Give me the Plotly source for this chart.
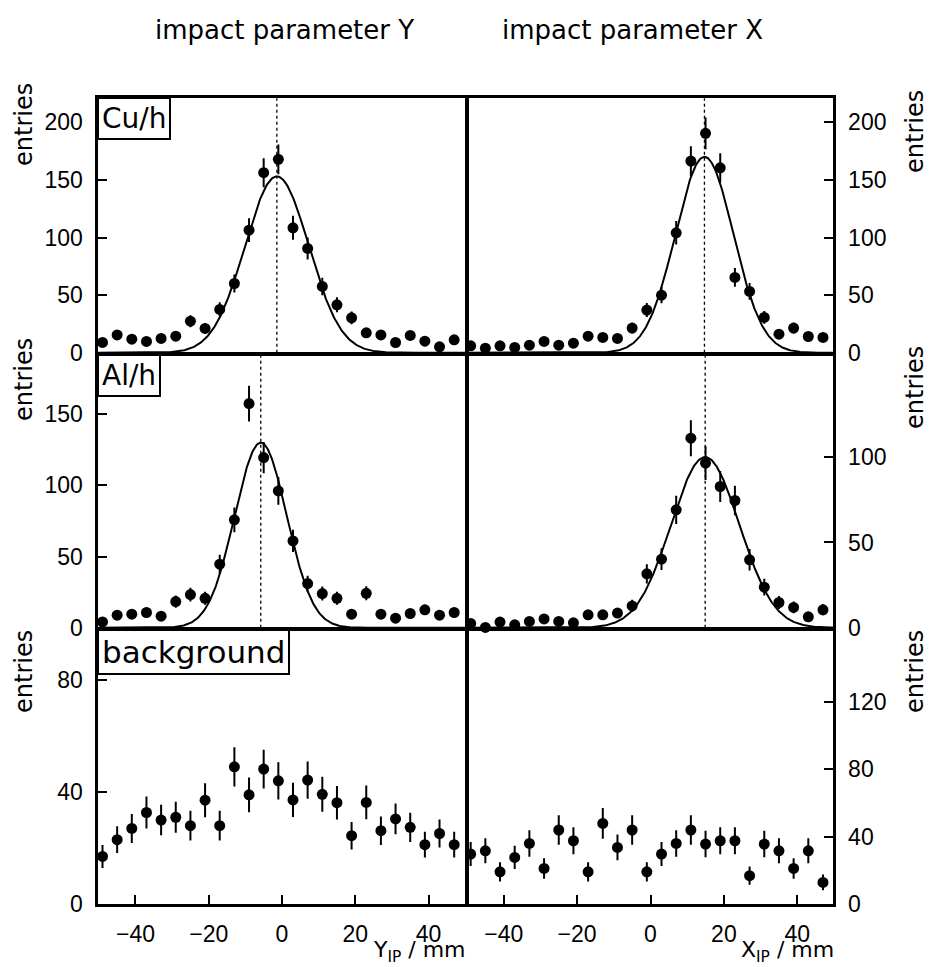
import numpy as np
import plotly.graph_objects as go
from plotly.subplots import make_subplots

# ---------------- data ----------------
bin_centers = [-49, -45, -41, -37, -33, -29, -25, -21, -17, -13, -9, -5, -1,
               3, 7, 11, 15, 19, 23, 27, 31, 35, 39, 43, 47]

cu_y = [9, 15.5, 11.8, 9.8, 12.4, 14.4, 27.4, 21.1, 37.6, 60.1, 106.4, 156.2, 167.8,
        108.4, 90.5, 57.5, 41.6, 30.3, 17.3, 15.5, 8.9, 15, 10, 5.1, 11.2]
cu_x = [6.0, 4.0, 6.0, 4.6, 6.6, 9.8, 6.6, 8.3, 14.4, 13.3, 12.4, 21.4, 37,
        50, 104.1, 166.3, 190.4, 160.5, 65.4, 53.2, 30.6, 16.1, 21.4, 14.1, 13.3]
al_y = [4.1, 8.8, 9.5, 10.7, 8.1, 18.4, 23.3, 20.7, 44.6, 75.8, 157.4, 119.5, 96.1,
        61, 31, 24, 20.7, 9.5, 24.2, 9.5, 6.7, 10, 12.6, 8.8, 10.7]
al_x = [2.5, 0.2, 3.3, 1.7, 3.7, 5.2, 3.7, 2.9, 7.6, 7.6, 8.6, 12.8, 31.6,
        40.2, 69.1, 111.1, 96.5, 82.8, 74.6, 39.8, 23.8, 14.8, 11.9, 6.4, 10.5]
bg_y = [16.9, 22.9, 26.9, 32.6, 29.9, 30.9, 27.9, 37, 27.9, 48.9, 38.9, 48.1, 43.9,
        37.1, 44.2, 39.1, 36.1, 24.3, 36.2, 26.1, 30.3, 27.3, 21.1, 25.1, 21.1]
bg_x = [29.6, 31.5, 19, 27.6, 35.9, 21, 43.9, 37.5, 19, 47.8, 33.5, 43.9, 19,
        29.6, 35.9, 43.9, 35.5, 37.5, 37.5, 16.7, 35.5, 31.5, 21, 31.5, 12.7]
bg_x_weight = 1.75   # right background histogram is weighted

# Gaussian fit parameters: amplitude, mean, sigma
fit_cu_y = (153, -1.4, 8.7)
fit_cu_x = (170, 14.7, 7.9)
fit_al_y = (130, -5.8, 7.1)
fit_al_x = (100, 14.9, 9.3)

col_titles = ["impact parameter Y", "impact parameter X"]
x_titles = ["Y<sub>IP</sub> / mm", "X<sub>IP</sub> / mm"]
panel_labels = ["Cu/h", "Al/h", "background"]
x_ticks = [-40, -20, 0, 20, 40]
yticks_cu = [0, 50, 100, 150, 200]
yticks_al_y = [0, 50, 100, 150]
yticks_al_x = [0, 50, 100]
yticks_bg_y = [0, 40, 80]
yticks_bg_x = [0, 40, 80, 120]

# ---------------- figure ----------------
W, H = 930, 967
LW = 2.5
HALF = LW / 2
fig = make_subplots(rows=3, cols=2, horizontal_spacing=0, vertical_spacing=0)

BX = [97, 467, 834]          # frame boundaries (px)
BY = [97, 354, 629, 905]
XR = [[-50.5, 50.5], [-50, 50]]          # data range across boundary span
YTOP = [223, 223, 193.1, 161.2, 98.6, 164.3]  # y value at top boundary

panels = [
    (1, 1, cu_y, np.sqrt(cu_y), fit_cu_y, yticks_cu),
    (1, 2, cu_x, np.sqrt(cu_x), fit_cu_x, yticks_cu),
    (2, 1, al_y, np.sqrt(al_y), fit_al_y, yticks_al_y),
    (2, 2, al_x, np.sqrt(al_x), fit_al_x, yticks_al_x),
    (3, 1, bg_y, np.sqrt(bg_y), None, yticks_bg_y),
    (3, 2, bg_x, np.sqrt(np.array(bg_x) * bg_x_weight), None, yticks_bg_x),
]

xfine = np.linspace(-50.5, 50.5, 501)
tickfont = dict(family="Liberation Sans, Arial, sans-serif", size=23, color="black")
textfont = "DejaVu Sans, sans-serif"

for k, (r, c, vals, errs, fit, yt) in enumerate(panels):
    idx = (r - 1) * 2 + c
    xa = "x" if idx == 1 else f"x{idx}"
    ya = "y" if idx == 1 else f"y{idx}"
    fig.add_trace(go.Scatter(
        x=bin_centers, y=vals, mode="markers",
        marker=dict(size=11, color="black"),
        error_y=dict(type="data", array=list(errs), thickness=2, width=0, color="black"),
        showlegend=False, hoverinfo="skip", cliponaxis=False), row=r, col=c)
    if fit is not None:
        A, mu, sg = fit
        yfit = A * np.exp(-0.5 * ((xfine - mu) / sg) ** 2)
        fig.add_trace(go.Scatter(x=xfine, y=yfit, mode="lines",
                                 line=dict(color="black", width=2),
                                 showlegend=False, hoverinfo="skip"), row=r, col=c)
        fig.add_shape(type="line", xref=xa, yref=f"{ya} domain",
                      x0=mu, x1=mu, y0=0, y1=1,
                      line=dict(color="black", width=1.3, dash="dot"))

    x0p, x1p = BX[c - 1], BX[c]
    y0p, y1p = BY[r - 1], BY[r]
    xdom = [(x0p + HALF) / W, (x1p - HALF) / W]
    ydom = [1 - (y1p - HALF) / H, 1 - (y0p + HALF) / H]
    lo, hi = XR[c - 1]
    sx = (x1p - x0p) / (hi - lo)
    xr = [lo + HALF / sx, hi - HALF / sx]
    sy = (y1p - y0p) / YTOP[k]
    yr = [0, YTOP[k] - LW / sy]

    fig.update_xaxes(domain=xdom, range=xr, showgrid=False, zeroline=False,
                     showline=True, mirror=True, linecolor="black", linewidth=LW,
                     ticks="inside" if r == 3 else "", ticklen=9, tickwidth=1.5,
                     tickcolor="black", tickvals=x_ticks,
                     showticklabels=(r == 3), tickfont=tickfont,
                     ticklabelstandoff=8, automargin=False,
                     row=r, col=c)
    fig.update_yaxes(domain=ydom, range=yr, showgrid=False, zeroline=False,
                     showline=True, mirror=True, linecolor="black", linewidth=LW,
                     ticks="inside", ticklen=9, tickwidth=1.5, tickcolor="black",
                     tickvals=yt, tickfont=tickfont,
                     side="left" if c == 1 else "right",
                     ticklabelstandoff=8, automargin=False,
                     row=r, col=c)

annotations = []
# column titles
for t, xc in zip(col_titles, [284, 632]):
    annotations.append(dict(text=t, x=xc / W, y=1 - 30 / H, xref="paper", yref="paper",
                            showarrow=False, xanchor="center", yanchor="middle",
                            font=dict(family=textfont, size=26, color="black")))
# x axis titles (right-aligned at panel end)
for t, xr in zip(x_titles, [468, 836]):
    annotations.append(dict(text=t, x=xr / W, y=1 - 951 / H, xref="paper", yref="paper",
                            showarrow=False, xanchor="right", yanchor="middle",
                            font=dict(family=textfont, size=22, color="black")))
# "entries" labels
for yc in [125, 380, 672]:
    annotations.append(dict(text="entries", x=24 / W, y=1 - yc / H, xref="paper", yref="paper",
                            showarrow=False, textangle=-90, xanchor="center", yanchor="middle",
                            font=dict(family=textfont, size=24, color="black")))
for yc in [132, 388, 672]:
    annotations.append(dict(text="entries", x=915 / W, y=1 - yc / H, xref="paper", yref="paper",
                            showarrow=False, textangle=-90, xanchor="center", yanchor="middle",
                            font=dict(family=textfont, size=24, color="black")))
# panel label boxes
for lab, ytop, fs in zip(panel_labels, [97, 354, 629], [28, 28, 31]):
    annotations.append(dict(text=lab, x=97 / W, y=1 - ytop / H, xref="paper", yref="paper",
                            showarrow=False, xanchor="left", yanchor="top",
                            bgcolor="white", bordercolor="black", borderwidth=2, borderpad=3,
                            font=dict(family=textfont, size=fs, color="black")))

fig.update_layout(width=W, height=H, margin=dict(l=0, r=0, t=0, b=0),
                  paper_bgcolor="white", plot_bgcolor="white", showlegend=False,
                  annotations=annotations)

fig.write_html("out.html")
